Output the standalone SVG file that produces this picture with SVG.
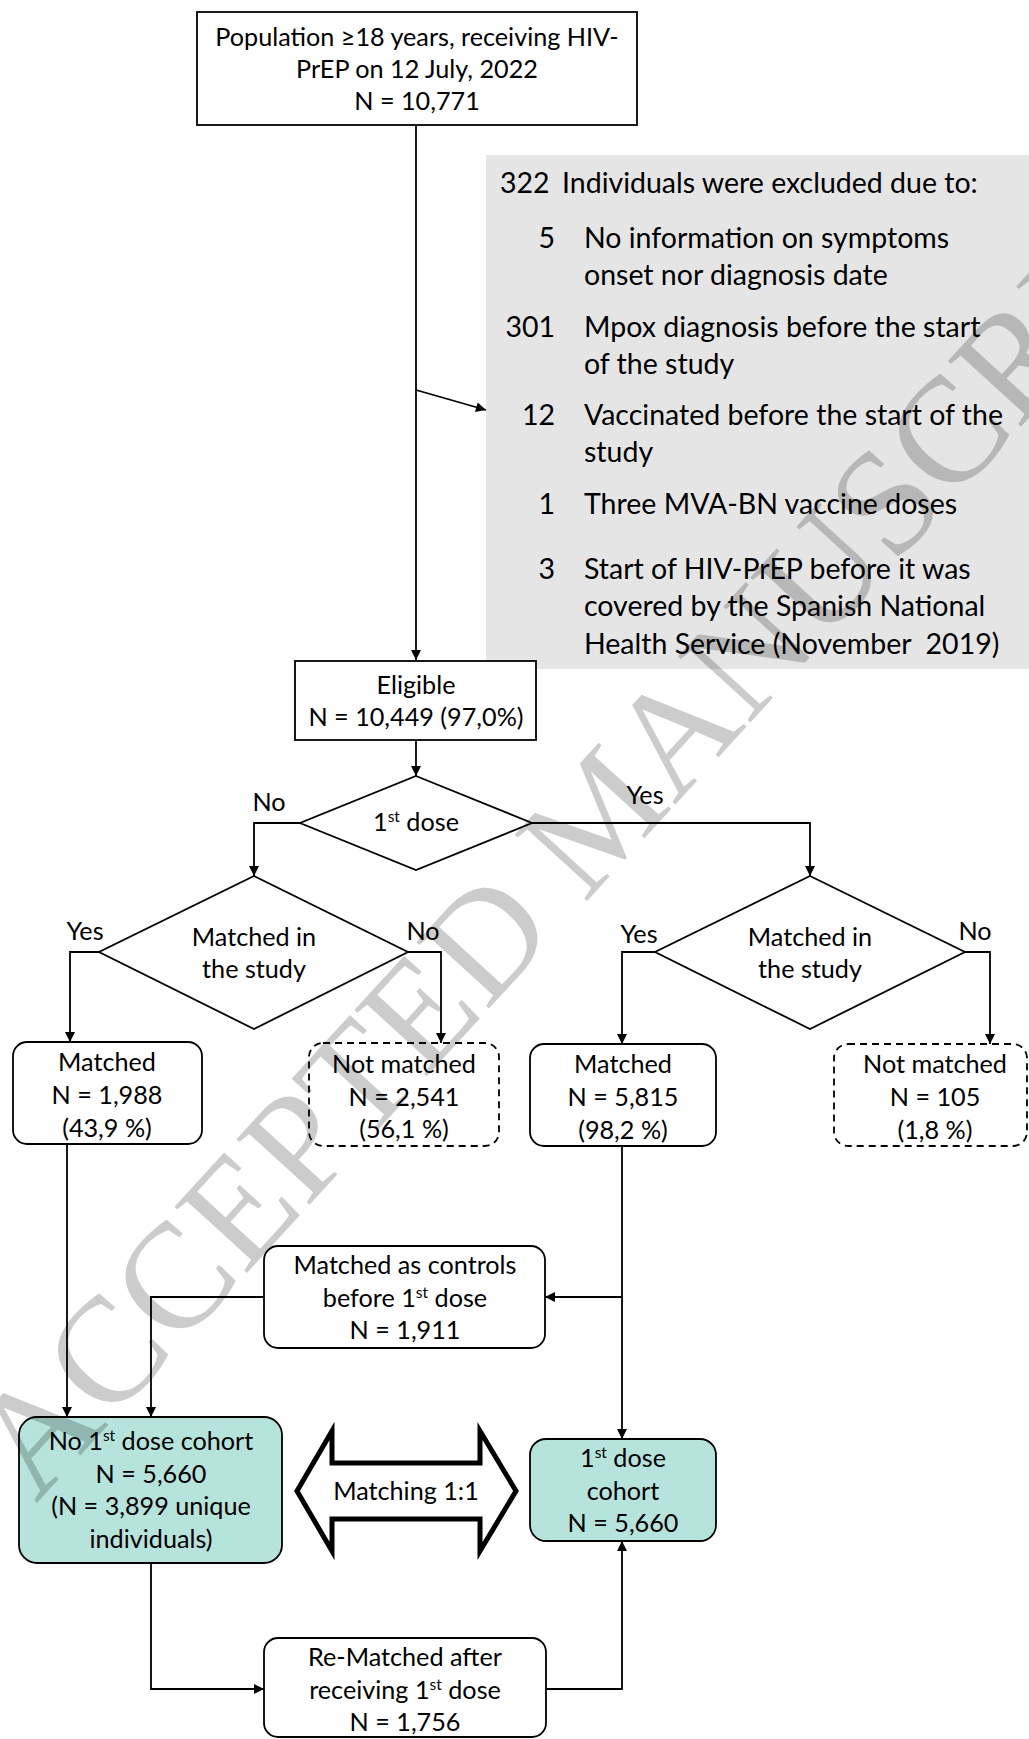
<svg xmlns="http://www.w3.org/2000/svg" width="1029" height="1739" viewBox="0 0 1029 1739">
<style>
  .t { font-family: Lato, "Liberation Sans", sans-serif; font-size: 25.2px; fill: #000; }
  .g { font-family: Lato, "Liberation Sans", sans-serif; font-size: 28.5px; fill: #000; }
  .c { text-anchor: middle; }
  .e { text-anchor: end; }
  .box { fill: #fff; stroke: #000; stroke-width: 1.8; }
  .dash { fill: #fff; stroke: #000; stroke-width: 1.8; stroke-dasharray: 7 5; }
  .teal { fill: #b6e3db; stroke: #000; stroke-width: 1.8; }
  .conn { fill: none; stroke: #000; stroke-width: 1.8; }
  .wm { font-family: "Liberation Serif", "DejaVu Serif", serif; font-size: 150px; fill: #000; fill-opacity: 0.2; }
</style>
<defs>
  <marker id="arr" viewBox="0 0 10 10" refX="10" refY="5" markerWidth="11" markerHeight="10" markerUnits="userSpaceOnUse" orient="auto">
    <path d="M0,0 L10,5 L0,10 z" fill="#000"/>
  </marker>
  <path id="wmpath" d="M36,1504 L1400,12"/>
</defs>
<rect width="1029" height="1739" fill="#fff"/>

<g id="exclusion">
  <rect x="486" y="155" width="543" height="514" fill="#e5e5e5"/>
  <text class="g" x="500" y="193">322</text>
  <text class="g" x="562" y="193">Individuals were excluded due to:</text>
  <text class="g e" x="555" y="248">5</text>
  <text class="g" x="584" y="248">No information on symptoms</text>
  <text class="g" x="584" y="285">onset nor diagnosis date</text>
  <text class="g e" x="555" y="337">301</text>
  <text class="g" x="584" y="337">Mpox diagnosis before the start</text>
  <text class="g" x="584" y="374">of the study</text>
  <text class="g e" x="555" y="425">12</text>
  <text class="g" x="584" y="425">Vaccinated before the start of the</text>
  <text class="g" x="584" y="462">study</text>
  <text class="g e" x="555" y="514">1</text>
  <text class="g" x="584" y="514">Three MVA-BN vaccine doses</text>
  <text class="g e" x="555" y="579">3</text>
  <text class="g" x="584" y="579">Start of HIV-PrEP before it was</text>
  <text class="g" x="584" y="616">covered by the Spanish National</text>
  <text class="g" x="584" y="654">Health Service (November&#160; 2019)</text>
</g>

<g id="connectors">
  <path class="conn" d="M416,125 V660" marker-end="url(#arr)"/>
  <path class="conn" d="M416,390 L486,410" marker-end="url(#arr)"/>
  <path class="conn" d="M416,740 V776" marker-end="url(#arr)"/>
  <path class="conn" d="M300,823 H254 V876" marker-end="url(#arr)"/>
  <path class="conn" d="M532,823 H810 V876" marker-end="url(#arr)"/>
  <path class="conn" d="M99,952 H70 V1042" marker-end="url(#arr)"/>
  <path class="conn" d="M408,952 H441 V1043" marker-end="url(#arr)"/>
  <path class="conn" d="M655,952 H622 V1044" marker-end="url(#arr)"/>
  <path class="conn" d="M965,952 H990 V1044" marker-end="url(#arr)"/>
  <path class="conn" d="M67,1144 V1417" marker-end="url(#arr)"/>
  <path class="conn" d="M622,1146 V1439" marker-end="url(#arr)"/>
  <path class="conn" d="M622,1297 H545" marker-end="url(#arr)"/>
  <path class="conn" d="M264,1297 H151 V1417" marker-end="url(#arr)"/>
  <path class="conn" d="M151,1563 V1689 H264" marker-end="url(#arr)"/>
  <path class="conn" d="M546,1689 H622 V1541" marker-end="url(#arr)"/>
</g>

<g id="population">
  <rect class="box" x="197" y="12" width="440" height="113"/>
  <text class="t c" x="417" y="46">Population ≥18 years, receiving HIV-</text>
  <text class="t c" x="417" y="78">PrEP on 12 July, 2022</text>
  <text class="t c" x="417" y="110">N = 10,771</text>
</g>

<g id="eligible">
  <rect class="box" x="295" y="661" width="241" height="79"/>
  <text class="t c" x="416" y="694">Eligible</text>
  <text class="t c" x="416" y="726">N = 10,449 (97,0%)</text>
</g>

<g id="first-dose">
  <polygon class="box" points="416,776 532,823 416,870 300,823"/>
  <text class="t c" x="416" y="831">1<tspan font-size="15.5" dy="-9">st</tspan><tspan dy="9"> dose</tspan></text>
  <text class="t c" x="269" y="811">No</text>
  <text class="t c" x="645" y="804">Yes</text>
</g>

<g id="matched-no-dose">
  <polygon class="box" points="254,876 408,952 254,1029 99,952"/>
  <text class="t c" x="254" y="946">Matched in</text>
  <text class="t c" x="254" y="978">the study</text>
  <text class="t c" x="85" y="940">Yes</text>
  <text class="t c" x="423" y="940">No</text>
</g>

<g id="matched-dose">
  <polygon class="box" points="810,876 965,952 810,1029 655,952"/>
  <text class="t c" x="810" y="946">Matched in</text>
  <text class="t c" x="810" y="978">the study</text>
  <text class="t c" x="639" y="943">Yes</text>
  <text class="t c" x="975" y="940">No</text>
</g>

<g id="matched-left">
  <rect class="box" x="13" y="1042" width="189" height="102" rx="14"/>
  <text class="t c" x="107" y="1071">Matched</text>
  <text class="t c" x="107" y="1104">N = 1,988</text>
  <text class="t c" x="107" y="1137">(43,9 %)</text>
</g>

<g id="not-matched-left">
  <rect class="dash" x="309" y="1043" width="190" height="103" rx="14"/>
  <text class="t c" x="404" y="1073">Not matched</text>
  <text class="t c" x="404" y="1106">N = 2,541</text>
  <text class="t c" x="404" y="1138">(56,1 %)</text>
</g>

<g id="matched-right">
  <rect class="box" x="530" y="1044" width="186" height="102" rx="14"/>
  <text class="t c" x="623" y="1073">Matched</text>
  <text class="t c" x="623" y="1106">N = 5,815</text>
  <text class="t c" x="623" y="1139">(98,2 %)</text>
</g>

<g id="not-matched-right">
  <rect class="dash" x="834" y="1044" width="193" height="102" rx="14"/>
  <text class="t c" x="935" y="1073">Not matched</text>
  <text class="t c" x="935" y="1106">N = 105</text>
  <text class="t c" x="935" y="1139">(1,8 %)</text>
</g>

<g id="controls">
  <rect class="box" x="264" y="1246" width="281" height="102" rx="14"/>
  <text class="t c" x="405" y="1274">Matched as controls</text>
  <text class="t c" x="405" y="1307">before 1<tspan font-size="15.5" dy="-9">st</tspan><tspan dy="9"> dose</tspan></text>
  <text class="t c" x="405" y="1339">N = 1,911</text>
</g>

<g id="no-dose-cohort">
  <rect class="teal" x="19" y="1417" width="263" height="146" rx="18"/>
  <text class="t c" x="151" y="1450">No 1<tspan font-size="15.5" dy="-9">st</tspan><tspan dy="9"> dose cohort</tspan></text>
  <text class="t c" x="151" y="1483">N = 5,660</text>
  <text class="t c" x="151" y="1515">(N = 3,899 unique</text>
  <text class="t c" x="151" y="1548">individuals)</text>
</g>

<g id="matching">
  <polygon points="297,1491 332,1431 332,1463 480,1463 480,1431 516,1491 480,1551 480,1519 332,1519 332,1551" fill="#fff" stroke="#000" stroke-width="5"/>
  <text class="t c" x="406" y="1500">Matching 1:1</text>
</g>

<g id="dose-cohort">
  <rect class="teal" x="530" y="1439" width="186" height="102" rx="16"/>
  <text class="t c" x="623" y="1467">1<tspan font-size="15.5" dy="-9">st</tspan><tspan dy="9"> dose</tspan></text>
  <text class="t c" x="623" y="1500">cohort</text>
  <text class="t c" x="623" y="1532">N = 5,660</text>
</g>

<g id="rematched">
  <rect class="box" x="264" y="1638" width="282" height="99" rx="14"/>
  <text class="t c" x="405" y="1666">Re-Matched after</text>
  <text class="t c" x="405" y="1699">receiving 1<tspan font-size="15.5" dy="-9">st</tspan><tspan dy="9"> dose</tspan></text>
  <text class="t c" x="405" y="1731">N = 1,756</text>
</g>

<g id="watermark">
  <text class="wm"><textPath href="#wmpath">ACCEPTED MANUSCRIPT</textPath></text>
</g>
</svg>
